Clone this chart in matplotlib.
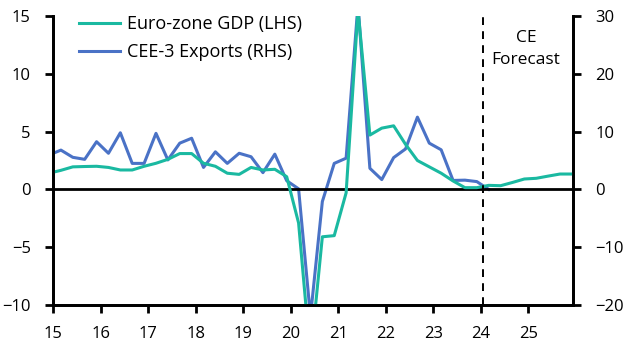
import matplotlib
matplotlib.use('Agg')
import matplotlib.pyplot as plt

plt.rcParams['font.family'] = ['Open Sans', 'DejaVu Sans']

# quarters 2014Q4 .. 2025Q4
years = [2014] + [y for y in range(2015, 2026) for _ in range(4)]
qtrs = [4] + [q for _ in range(2015, 2026) for q in range(1, 5)]

# Euro-zone GDP, % y/y (LHS)
ez_gdp = [1.4, 1.65, 1.95, 1.98, 2.0, 1.9, 1.68, 1.68, 2.0, 2.26, 2.6, 3.1, 3.1,
          2.26, 2.0, 1.4, 1.3, 1.9, 1.68, 1.74, 1.1, -2.9, -14.5, -4.1, -4.0,
          -0.3, 15.5, 4.7, 5.3, 5.5, 3.9, 2.5, 1.95, 1.4, 0.73, 0.15, 0.15,
          0.35, 0.32, 0.6, 0.9, 0.96, 1.15, 1.33, 1.33]

# CEE-3 exports, % y/y (RHS), to 2024Q1
cee_exports = [5.95, 6.8, 5.55, 5.2, 8.25, 6.25, 9.8, 4.5, 4.5, 9.7, 5.1, 8.0,
               8.85, 3.8, 6.5, 4.5, 6.25, 5.65, 2.9, 6.1, 1.5, 0.1, -22.0, -2.1,
               4.5, 5.4, 32.0, 3.65, 1.7, 5.5, 7.0, 12.5, 8.0, 6.85, 1.55, 1.6,
               1.35, 0.0]

forecast_start = 2024.04
x = [y + (q - 1) / 4 + 1 / 6 for y, q in zip(years, qtrs)]

teal = '#1AB9A1'
blue = '#4A72C6'

fig = plt.figure(figsize=(6.28, 3.53), dpi=100)
ax = fig.add_axes([53 / 628, 1 - 305 / 353, 520 / 628, 289 / 353])
ax2 = ax.twinx()
ax.set_zorder(ax2.get_zorder() + 1)
ax.patch.set_visible(False)

l2, = ax2.plot(x[:len(cee_exports)], cee_exports, color=blue, lw=2.2,
               label='CEE-3 Exports (RHS)')
l1, = ax.plot(x, ez_gdp, color=teal, lw=2.2, label='Euro-zone GDP (LHS)')

ax.axhline(0, color='black', lw=2, zorder=1)
ax.axvline(forecast_start, color='black', lw=1.4, dashes=(4, 3.2))

ax.set_xlim(2015, 2025.94)
ax.set_ylim(-10, 15)
ax2.set_ylim(-20, 30)
ax.set_yticks(range(-10, 16, 5))
ax2.set_yticks(range(-20, 31, 10))
ax.set_xticks(range(2015, 2026))
ax.set_xticklabels([str(y)[2:] for y in range(2015, 2026)])

for a in (ax, ax2):
    a.spines['top'].set_visible(False)
    for s in ('left', 'right', 'bottom'):
        a.spines[s].set_linewidth(2)
ax.tick_params(axis='both', direction='out', length=6, width=2, labelsize=12, pad=10)
ax2.tick_params(axis='y', direction='out', length=6, width=2, labelsize=12, pad=10)
ax.tick_params(axis='x', pad=9)

ax.text(2024.95, 13.75, 'CE\nForecast', ha='center', va='top', fontsize=12.5,
        linespacing=1.5)

ax.legend(handles=[l1, l2], loc='upper left', bbox_to_anchor=(0.019, 1.06),
          frameon=False, fontsize=13, handlelength=2.25, handletextpad=0.38,
          labelspacing=0.55)

fig.savefig('out.png', dpi=100)
